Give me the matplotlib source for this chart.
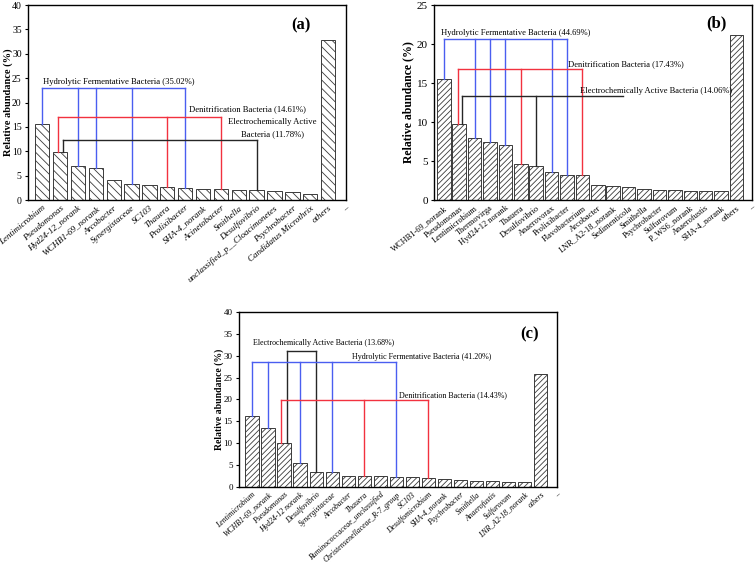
import matplotlib.pyplot as plt

plt.rcParams['font.family'] = ['Liberation Serif', 'DejaVu Serif']
plt.rcParams['hatch.linewidth'] = 0.6
plt.rcParams['axes.linewidth'] = 1.0

# panel (a)
genus_a = ["Lentimicrobium", "Pseudomonas", "Hyd24-12_norank", "WCHB1-69_norank", "Arcobacter",
           "Synergistaceae", "SC103", "Thauera", "Prolixibacter", "SHA-4_norank", "Acinetobacter",
           "Smithella", "Desulfovibrio", "unclassified_p__Cloacimonetes", "Psychrobacter",
           "Candidatus Microthrix", "others", "\u2013"]
abund_a = [15.7, 9.8, 7.0, 6.6, 4.1, 3.3, 3.1, 2.7, 2.4, 2.2, 2.2, 2.0, 2.0, 1.8, 1.6, 1.2, 32.8]

# panel (b)
genus_b = ["WCHB1-69_norank", "Pseudomonas", "Lentimicrobium", "Thermovirga", "Hyd24-12 norank",
           "Thauera", "Desulfovibrio", "Anaerovorax", "Prolixibacter", "Flavobacterium",
           "Arcobacter", "LNR_A2-18_norank", "Sedimenticola", "Smithella", "Psychrobacter",
           "Sulfurovum", "P_WS6_norank", "Anaerofustis", "SHA-4_norank", "others", "\u2013"]
abund_b = [15.5, 9.7, 7.9, 7.5, 7.1, 4.6, 4.4, 3.6, 3.25, 3.2, 1.9, 1.85, 1.7, 1.4, 1.3,
           1.3, 1.2, 1.15, 1.15, 21.1]

# panel (c)
genus_c = ["Lentimicrobium", "WCHB1-69_norank", "Pseudomonas", "Hyd24-12 norank", "Desulfovibrio",
           "Synergistaceae", "Arcobacter", "Thauera", "Ruminococcaceae_unclassified",
           "Christensenellaceae_R-7_group", "SC103", "Desulfomicrobium", "SHA-4_norank",
           "Psychrobacter", "Smithella", "Anaerofustis", "Sulfurovum", "LNR_A2-18_norank",
           "others", "\u2013"]
abund_c = [16.3, 13.5, 10.1, 5.5, 3.45, 3.45, 2.4, 2.4, 2.35, 2.15, 2.15, 1.9, 1.7, 1.5,
           1.25, 1.2, 1.15, 1.0, 25.8]

# functional groups: (bar numbers, bracket level, colour)
BLUE = '#4a5ef0'
RED = '#f2323f'
BLACK = '#262626'
groups_a = [([1, 3, 4, 6, 9], 23.0, BLUE), ([2, 8, 11], 17.0, RED), ([2, 13], 12.3, BLACK)]
groups_b = [([1, 3, 4, 5, 8, 9], 20.7, BLUE), ([2, 6, 10], 16.8, RED), ([2, 7], 13.3, BLACK)]
groups_c = [([3, 5], 31.2, BLACK), ([1, 2, 4, 6, 10], 28.6, BLUE), ([3, 8, 12], 19.8, RED)]
# small sideways shift where two brackets land on the same bar
shift_a = [{2: -0.1}, {2: -0.1}, {2: 0.17}]
shift_b = [{}, {2: -0.1}, {2: 0.2}]
shift_c = [{3: 0.2}, {}, {3: -0.2}]


def bracket(ax, members, level, color, values, shift, xend=None):
    xs = [m + shift.get(m, 0) for m in members]
    for m, x in zip(members, xs):
        ax.plot([x, x], [values[m - 1], level], color=color, lw=1.0, zorder=3)
    ax.plot([xs[0], xend if xend else xs[-1]], [level, level], color=color, lw=1.0, zorder=3)


def panel(rect, names, values, ymax, hatch, width, italic, rot, fs, yfs, labfs, labx):
    ax = fig.add_axes(rect)
    x = list(range(1, len(values) + 1))
    ax.bar(x, values, width=width, color='white', edgecolor='#3a3a3a', hatch=hatch, lw=0.7, zorder=2)
    ax.set_xlim(1 - width / 2 - 0.4 + 0.2 * (width > 0.85), len(names))
    ax.set_ylim(0, ymax)
    ax.set_yticks(range(0, ymax + 1, 5))
    ax.set_xticks(range(1, len(names) + 1))
    ax.set_xticklabels(names, rotation=rot, ha='right', va='top', rotation_mode='anchor',
                       fontsize=fs, style='italic' if italic else 'normal')
    ax.tick_params(axis='x', length=0, pad=3)
    ax.tick_params(axis='y', length=2.5, width=0.8, labelsize=yfs, pad=2)
    ax.set_ylabel("Relative abundance (%)", fontweight='bold', fontsize=labfs)
    ax.yaxis.set_label_coords(labx, 0.5)
    return ax


fig = plt.figure(figsize=(7.56, 5.65), dpi=100)

# (a)
ax = panel([0.037, 0.646, 0.4206, 0.345], genus_a, abund_a, 40, '\\' * 4, 0.8, True, 40,
           6.5, 7, 7.5, -0.047)
for (m, lev, col), sh in zip(groups_a, shift_a):
    bracket(ax, m, lev, col, abund_a, sh)
ax.text(5.3, 24.2, "Hydrolytic Fermentative Bacteria (35.02%)", ha='center', va='center', fontsize=6.2)
ax.text(12.5, 18.7, "Denitrification Bacteria (14.61%)", ha='center', va='center', fontsize=6.2)
ax.text(13.9, 14.8, "Electrochemically Active\nBacteria (11.78%)", ha='center', va='center',
        fontsize=6.2, linespacing=1.6)
ax.text(0.858, 0.897, "(a)", transform=ax.transAxes, ha='center', va='center',
        fontsize=12, fontweight='bold')

# (b)
ax = panel([0.574, 0.646, 0.4206, 0.345], genus_b, abund_b, 25, '/' * 6, 0.88, False, 38,
           6, 8, 8.5, -0.063)
for (m, lev, col), sh in zip(groups_b, shift_b):
    bracket(ax, m, lev, col, abund_b, sh, xend=12.6 if col == BLACK else None)
ax.text(5.67, 21.4, "Hydrolytic Fermentative Bacteria (44.69%)", ha='center', va='center', fontsize=6.1)
ax.text(12.8, 17.4, "Denitrification Bacteria (17.43%)", ha='center', va='center', fontsize=6.1)
ax.text(14.8, 14.0, "Electrochemically Active Bacteria (14.06%)", ha='center', va='center', fontsize=6.1)
ax.text(0.887, 0.908, "(b)", transform=ax.transAxes, ha='center', va='center',
        fontsize=12, fontweight='bold')

# (c)
ax = panel([0.316, 0.1386, 0.4206, 0.3087], genus_c, abund_c, 40, '/' * 6, 0.83, True, 42,
           5.6, 6.5, 7, -0.047)
for (m, lev, col), sh in zip(groups_c, shift_c):
    bracket(ax, m, lev, col, abund_c, sh)
ax.text(5.44, 33.0, "Electrochemically Active Bacteria (13.68%)", ha='center', va='center', fontsize=5.8)
ax.text(11.6, 29.7, "Hydrolytic Fermentative Bacteria (41.20%)", ha='center', va='center', fontsize=5.8)
ax.text(13.5, 21.0, "Denitrification Bacteria (14.43%)", ha='center', va='center', fontsize=5.8)
ax.text(0.915, 0.874, "(c)", transform=ax.transAxes, ha='center', va='center',
        fontsize=12, fontweight='bold')

fig.savefig("out.png", dpi=100)
